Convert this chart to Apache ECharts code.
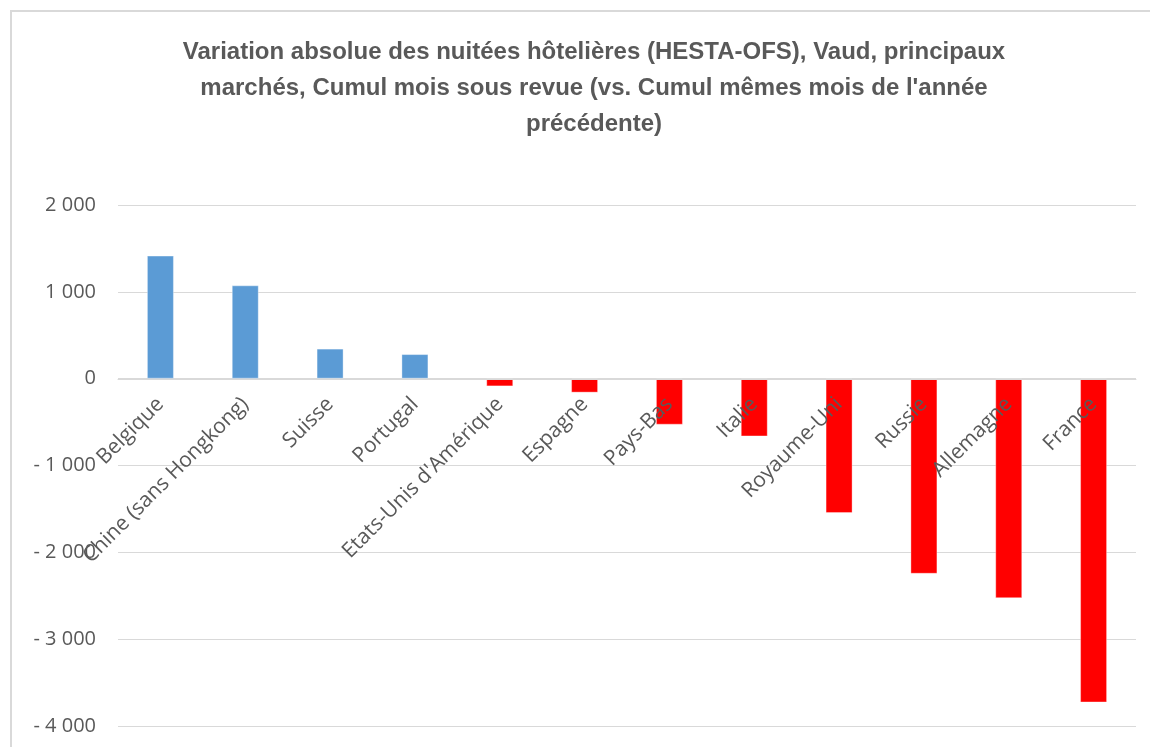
<!DOCTYPE html>
<html>
<head>
<meta charset="utf-8">
<script src="https://cdn.jsdelivr.net/npm/echarts@6/dist/echarts.min.js"></script>
<style>
  html, body { margin: 0; padding: 0; background: #fff; }
  #chart { width: 1150px; height: 747px; }
</style>
</head>
<body>
<div id="chart"></div>
<script>
// marchés (ordre du graphique)
const categories = ['Belgique', 'Chine (sans Hongkong)', 'Suisse', 'Portugal', "Etats-Unis d'Amérique",
  'Espagne', 'Pays-Bas', 'Italie', 'Royaume-Uni', 'Russie', 'Allemagne', 'France']
// variation absolue des nuitées
const variations = [1417, 1075, 346, 283, -89, -161, -530, -665, -1548, -2247, -2528, -3729]
const yTicks = { min: -4000, max: 2000, interval: 1000 }

const titleText = "Variation absolue des nuitées hôtelières (HESTA-OFS), Vaud, principaux\n" +
  "marchés, Cumul mois sous revue (vs. Cumul mêmes mois de l'année\nprécédente)"

function fmtNum(v) {
  const s = String(Math.abs(v)).replace(/\B(?=(\d{3})+(?!\d))/g, ' ')
  return v < 0 ? '- ' + s : s
}

// grille
const gridTop = 205
const gridBottom = 21
const plotH = 747 - gridTop - gridBottom
// l'axe des catégories est remonté jusqu'au zéro
const zeroOffset = -Math.round(plotH * (0 - yTicks.min) / (yTicks.max - yTicks.min))

const chart = echarts.init(document.getElementById('chart'))
chart.setOption({
  backgroundColor: '#fff',
  animation: false,
  title: {
    text: titleText,
    left: 589,
    top: 29,
    textAlign: 'center',
    textStyle: {
      fontFamily: '"Liberation Sans", sans-serif',
      fontWeight: 'bold',
      fontSize: 24,
      lineHeight: 36,
      color: '#595959'
    }
  },
  graphic: [{
    type: 'rect',
    shape: { x: 11, y: 11, width: 1300, height: 900 },
    style: { fill: 'none', stroke: '#d9d9d9', lineWidth: 2 },
    silent: true
  }],
  grid: { left: 118, right: 14, top: gridTop, bottom: gridBottom, containLabel: false, outerBoundsMode: 'none' },
  xAxis: {
    type: 'category',
    data: categories,
    offset: zeroOffset,
    z: 5, // étiquettes par-dessus les barres
    axisLine: { onZero: false, lineStyle: { color: '#d9d9d9', width: 1 } },
    axisTick: { show: false },
    axisLabel: {
      rotate: 45,
      interval: 0,
      margin: 22,
      fontFamily: '"Open Sans", sans-serif',
      fontSize: 21,
      color: '#595959'
    }
  },
  yAxis: {
    type: 'value',
    min: yTicks.min,
    max: yTicks.max,
    interval: yTicks.interval,
    axisLine: { show: false },
    axisTick: { show: false },
    splitLine: { lineStyle: { color: '#d9d9d9', width: 1 } },
    axisLabel: {
      margin: 22,
      fontFamily: '"Open Sans", sans-serif',
      fontSize: 20,
      color: '#595959',
      formatter: fmtNum
    }
  },
  series: [{
    type: 'bar',
    data: variations,
    barWidth: 27,
    itemStyle: {
      color: p => (p.value >= 0 ? '#5b9bd5' : '#ff0000'),
      borderColor: 'rgba(255,255,255,0.35)',
      borderWidth: 1
    }
  }]
})
</script>
</body>
</html>
